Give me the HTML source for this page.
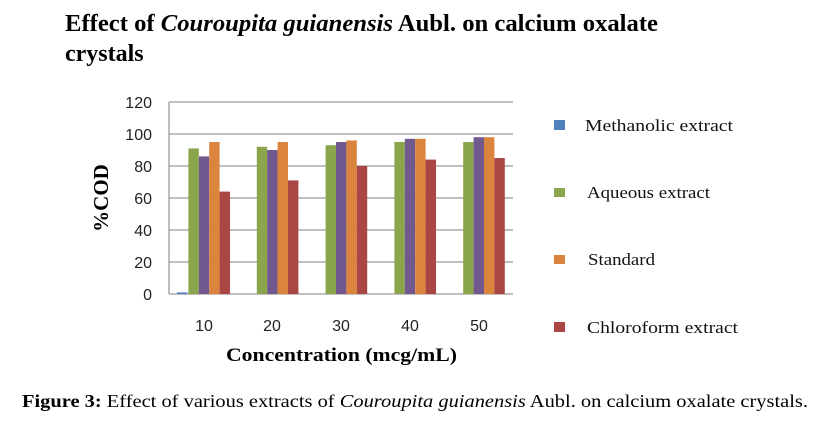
<!DOCTYPE html>
<html><head><meta charset="utf-8"><style>
body{margin:0;background:#fff;}
svg text{font-family:"Liberation Serif",serif;}
</style></head><body>
<svg width="836" height="429" xmlns="http://www.w3.org/2000/svg">
<text x="65" y="31" font-size="24" font-weight="bold" textLength="593" lengthAdjust="spacingAndGlyphs">Effect of <tspan font-style="italic">Couroupita guianensis</tspan> Aubl. on calcium oxalate</text>
<text x="65" y="61" font-size="24" font-weight="bold">crystals</text>
<g stroke="#9a9a9a" stroke-width="1.3">
<line x1="169" y1="102" x2="513" y2="102"/>
<line x1="169" y1="134" x2="513" y2="134"/>
<line x1="169" y1="166" x2="513" y2="166"/>
<line x1="169" y1="198" x2="513" y2="198"/>
<line x1="169" y1="230" x2="513" y2="230"/>
<line x1="169" y1="262" x2="513" y2="262"/>
<line x1="169" y1="294" x2="513" y2="294"/>
<line x1="169" y1="102" x2="169" y2="294"/>
</g>
<g font-size="16" text-anchor="end" fill="#222">
<text x="152" y="108" style="font-family:'Liberation Sans',sans-serif">120</text>
<text x="152" y="140" style="font-family:'Liberation Sans',sans-serif">100</text>
<text x="152" y="172" style="font-family:'Liberation Sans',sans-serif">80</text>
<text x="152" y="204" style="font-family:'Liberation Sans',sans-serif">60</text>
<text x="152" y="236" style="font-family:'Liberation Sans',sans-serif">40</text>
<text x="152" y="268" style="font-family:'Liberation Sans',sans-serif">20</text>
<text x="152" y="300" style="font-family:'Liberation Sans',sans-serif">0</text>
</g>
<g font-size="16" text-anchor="middle" fill="#222">
<text x="204" y="331" style="font-family:'Liberation Sans',sans-serif">10</text>
<text x="272" y="331" style="font-family:'Liberation Sans',sans-serif">20</text>
<text x="341" y="331" style="font-family:'Liberation Sans',sans-serif">30</text>
<text x="410" y="331" style="font-family:'Liberation Sans',sans-serif">40</text>
<text x="479" y="331" style="font-family:'Liberation Sans',sans-serif">50</text>
</g>
<text transform="translate(108,198) rotate(-90)" font-size="21" font-weight="bold" text-anchor="middle">%COD</text>
<text x="226" y="361" font-size="19" font-weight="bold" textLength="231" lengthAdjust="spacingAndGlyphs">Concentration  (mcg/mL)</text>
<g>
<rect x="177" y="292.4" width="10.4" height="1.6" fill="#4f81bd"/>
<rect x="188.4" y="148.4" width="10.4" height="145.6" fill="#8aa54b"/>
<rect x="198.8" y="156.4" width="10.4" height="137.6" fill="#71588f"/>
<rect x="209.2" y="142" width="10.4" height="152" fill="#db843d"/>
<rect x="219.6" y="191.6" width="10.4" height="102.4" fill="#aa4643"/>
<rect x="256.8" y="146.8" width="10.4" height="147.2" fill="#8aa54b"/>
<rect x="267.2" y="150" width="10.4" height="144" fill="#71588f"/>
<rect x="277.6" y="142" width="10.4" height="152" fill="#db843d"/>
<rect x="288" y="180.4" width="10.4" height="113.6" fill="#aa4643"/>
<rect x="325.6" y="145.2" width="10.4" height="148.8" fill="#8aa54b"/>
<rect x="336" y="142" width="10.4" height="152" fill="#71588f"/>
<rect x="346.4" y="140.4" width="10.4" height="153.6" fill="#db843d"/>
<rect x="356.8" y="166" width="10.4" height="128" fill="#aa4643"/>
<rect x="394.4" y="142" width="10.4" height="152" fill="#8aa54b"/>
<rect x="404.8" y="138.8" width="10.4" height="155.2" fill="#71588f"/>
<rect x="415.2" y="138.8" width="10.4" height="155.2" fill="#db843d"/>
<rect x="425.6" y="159.6" width="10.4" height="134.4" fill="#aa4643"/>
<rect x="463.2" y="142" width="10.4" height="152" fill="#8aa54b"/>
<rect x="473.6" y="137.2" width="10.4" height="156.8" fill="#71588f"/>
<rect x="484" y="137.2" width="10.4" height="156.8" fill="#db843d"/>
<rect x="494.4" y="158" width="10.4" height="136" fill="#aa4643"/>
</g>
<rect x="554" y="120" width="11" height="10" fill="#4f81bd"/>
<rect x="554" y="188" width="11" height="9" fill="#8aa54b"/>
<rect x="554" y="255" width="11" height="9" fill="#db843d"/>
<rect x="554" y="322" width="11" height="10" fill="#aa4643"/>
<g font-size="17" fill="#111">
<text x="585" y="131" textLength="148" lengthAdjust="spacingAndGlyphs">Methanolic extract</text>
<text x="587" y="198" textLength="123" lengthAdjust="spacingAndGlyphs">Aqueous extract</text>
<text x="588" y="265" textLength="67" lengthAdjust="spacingAndGlyphs">Standard</text>
<text x="587" y="333" textLength="151" lengthAdjust="spacingAndGlyphs">Chloroform extract</text>
</g>
<text x="22" y="407" font-size="18" textLength="786" lengthAdjust="spacingAndGlyphs"><tspan font-weight="bold">Figure 3:</tspan> Effect of various extracts of <tspan font-style="italic">Couroupita guianensis</tspan> Aubl. on calcium oxalate crystals.</text>
</svg>
</body></html>
